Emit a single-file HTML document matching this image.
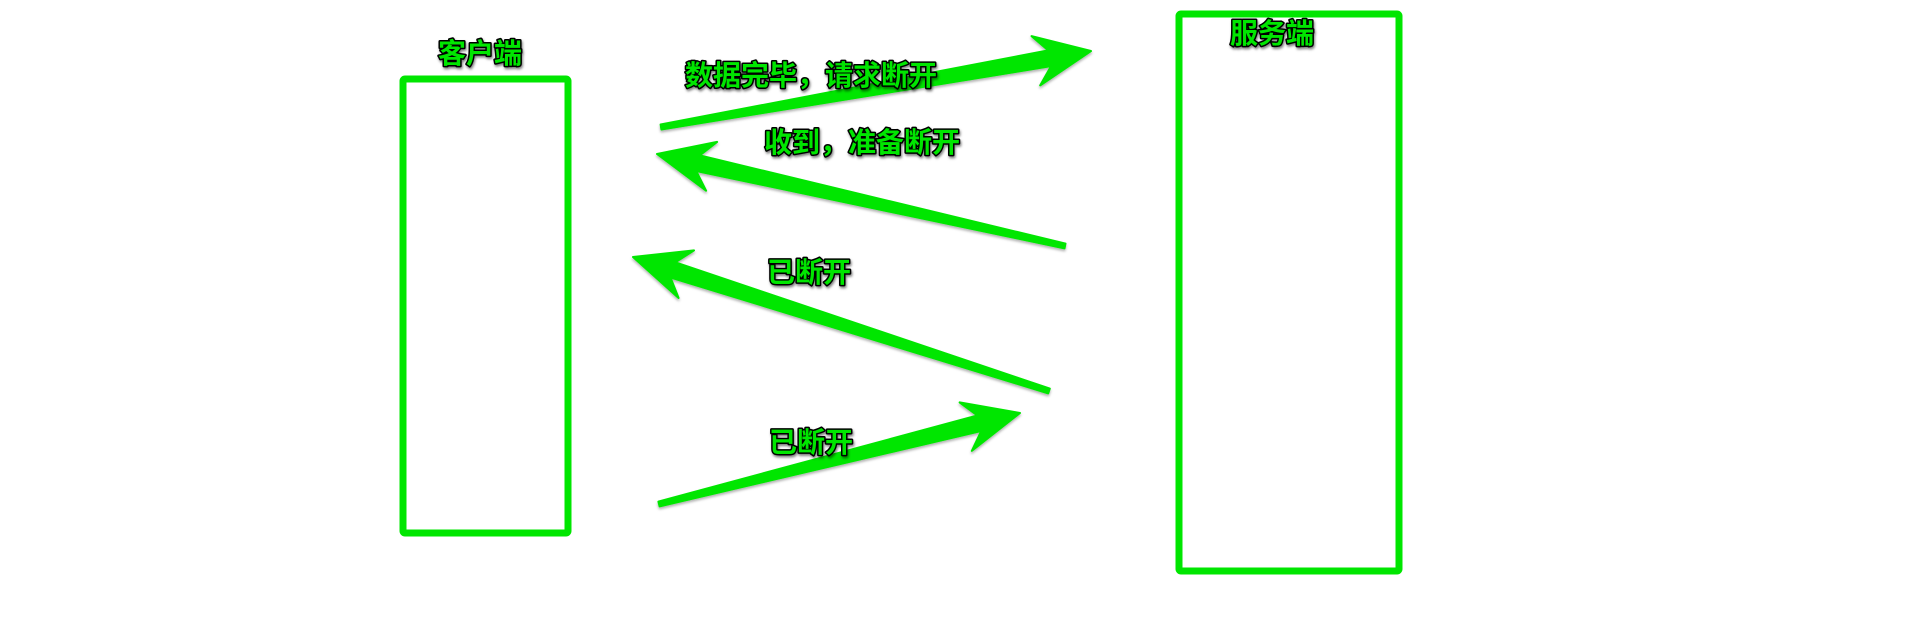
<!DOCTYPE html>
<html><head><meta charset="utf-8"><style>
html,body{margin:0;padding:0;background:#fff;width:1920px;height:629px;overflow:hidden}
svg{display:block}
text{font-family:"Liberation Sans","Noto Sans CJK SC",sans-serif;font-weight:bold;font-size:28px;fill:#00e600;stroke:#000;stroke-width:3px;paint-order:stroke;stroke-linejoin:round;text-anchor:middle;filter:url(#sh)}
</style></head><body>
<svg id="dia" width="1920" height="629">
<defs>
<filter id="sh" x="-10%" y="-20%" width="130%" height="160%"><feDropShadow dx="1" dy="2" stdDeviation="1.2" flood-color="#000" flood-opacity="0.5"/></filter>
<filter id="ash" x="-5%" y="-20%" width="110%" height="160%"><feDropShadow dx="0" dy="2" stdDeviation="1.2" flood-color="#000" flood-opacity="0.3"/></filter>
</defs>
<rect x="403" y="79" width="165" height="454" fill="none" stroke="#00e600" stroke-width="7" rx="2"/>
<rect x="1179" y="14" width="220" height="557" fill="none" stroke="#00e600" stroke-width="7" rx="2"/>
<text x="480" y="63">客户端</text>
<text x="1272" y="43">服务端</text>
<g id="arrows"></g>
<text x="811" y="85">数据完毕，请求断开</text>
<text x="862" y="152">收到，准备断开</text>
<text x="809" y="282">已断开</text>
<text x="811" y="452">已断开</text>
</svg>
<script>
const tails=[[661,127],[1065,246],[1049,391],[659,504]];
const tips=[[1091,51],[657,154],[633,257],[1020,413]];
const names=['arrow-request-close','arrow-ack-close','arrow-closed-server','arrow-closed-client'];
const g=document.getElementById('arrows');
for(let i=0;i<tails.length;i++){
  const [x1,y1]=tails[i],[x2,y2]=tips[i];
  const dx=x2-x1,dy=y2-y1,L=Math.hypot(dx,dy),ux=dx/L,uy=dy/L,nx=-uy,ny=ux;
  const hl=56,bx=x2-ux*hl,by=y2-uy*hl,nb=x2-ux*(hl-14),nby=y2-uy*(hl-14);
  const p=(x,y,w)=>[x+nx*w,y+ny*w];
  const pts=[p(x1,y1,2.5),p(nb,nby,8),p(bx,by,25),[x2,y2],p(bx,by,-25),p(nb,nby,-8),p(x1,y1,-2.5)];
  const el=document.createElementNS('http://www.w3.org/2000/svg','polygon');
  el.setAttribute('points',pts.map(q=>q[0].toFixed(1)+','+q[1].toFixed(1)).join(' '));
  el.setAttribute('fill','#00e600');
  el.setAttribute('stroke','#00e600');
  el.setAttribute('stroke-width','2');
  el.setAttribute('stroke-linejoin','round');
  el.setAttribute('filter','url(#ash)');
  
  
  g.appendChild(el);
}
</script>
</body></html>
